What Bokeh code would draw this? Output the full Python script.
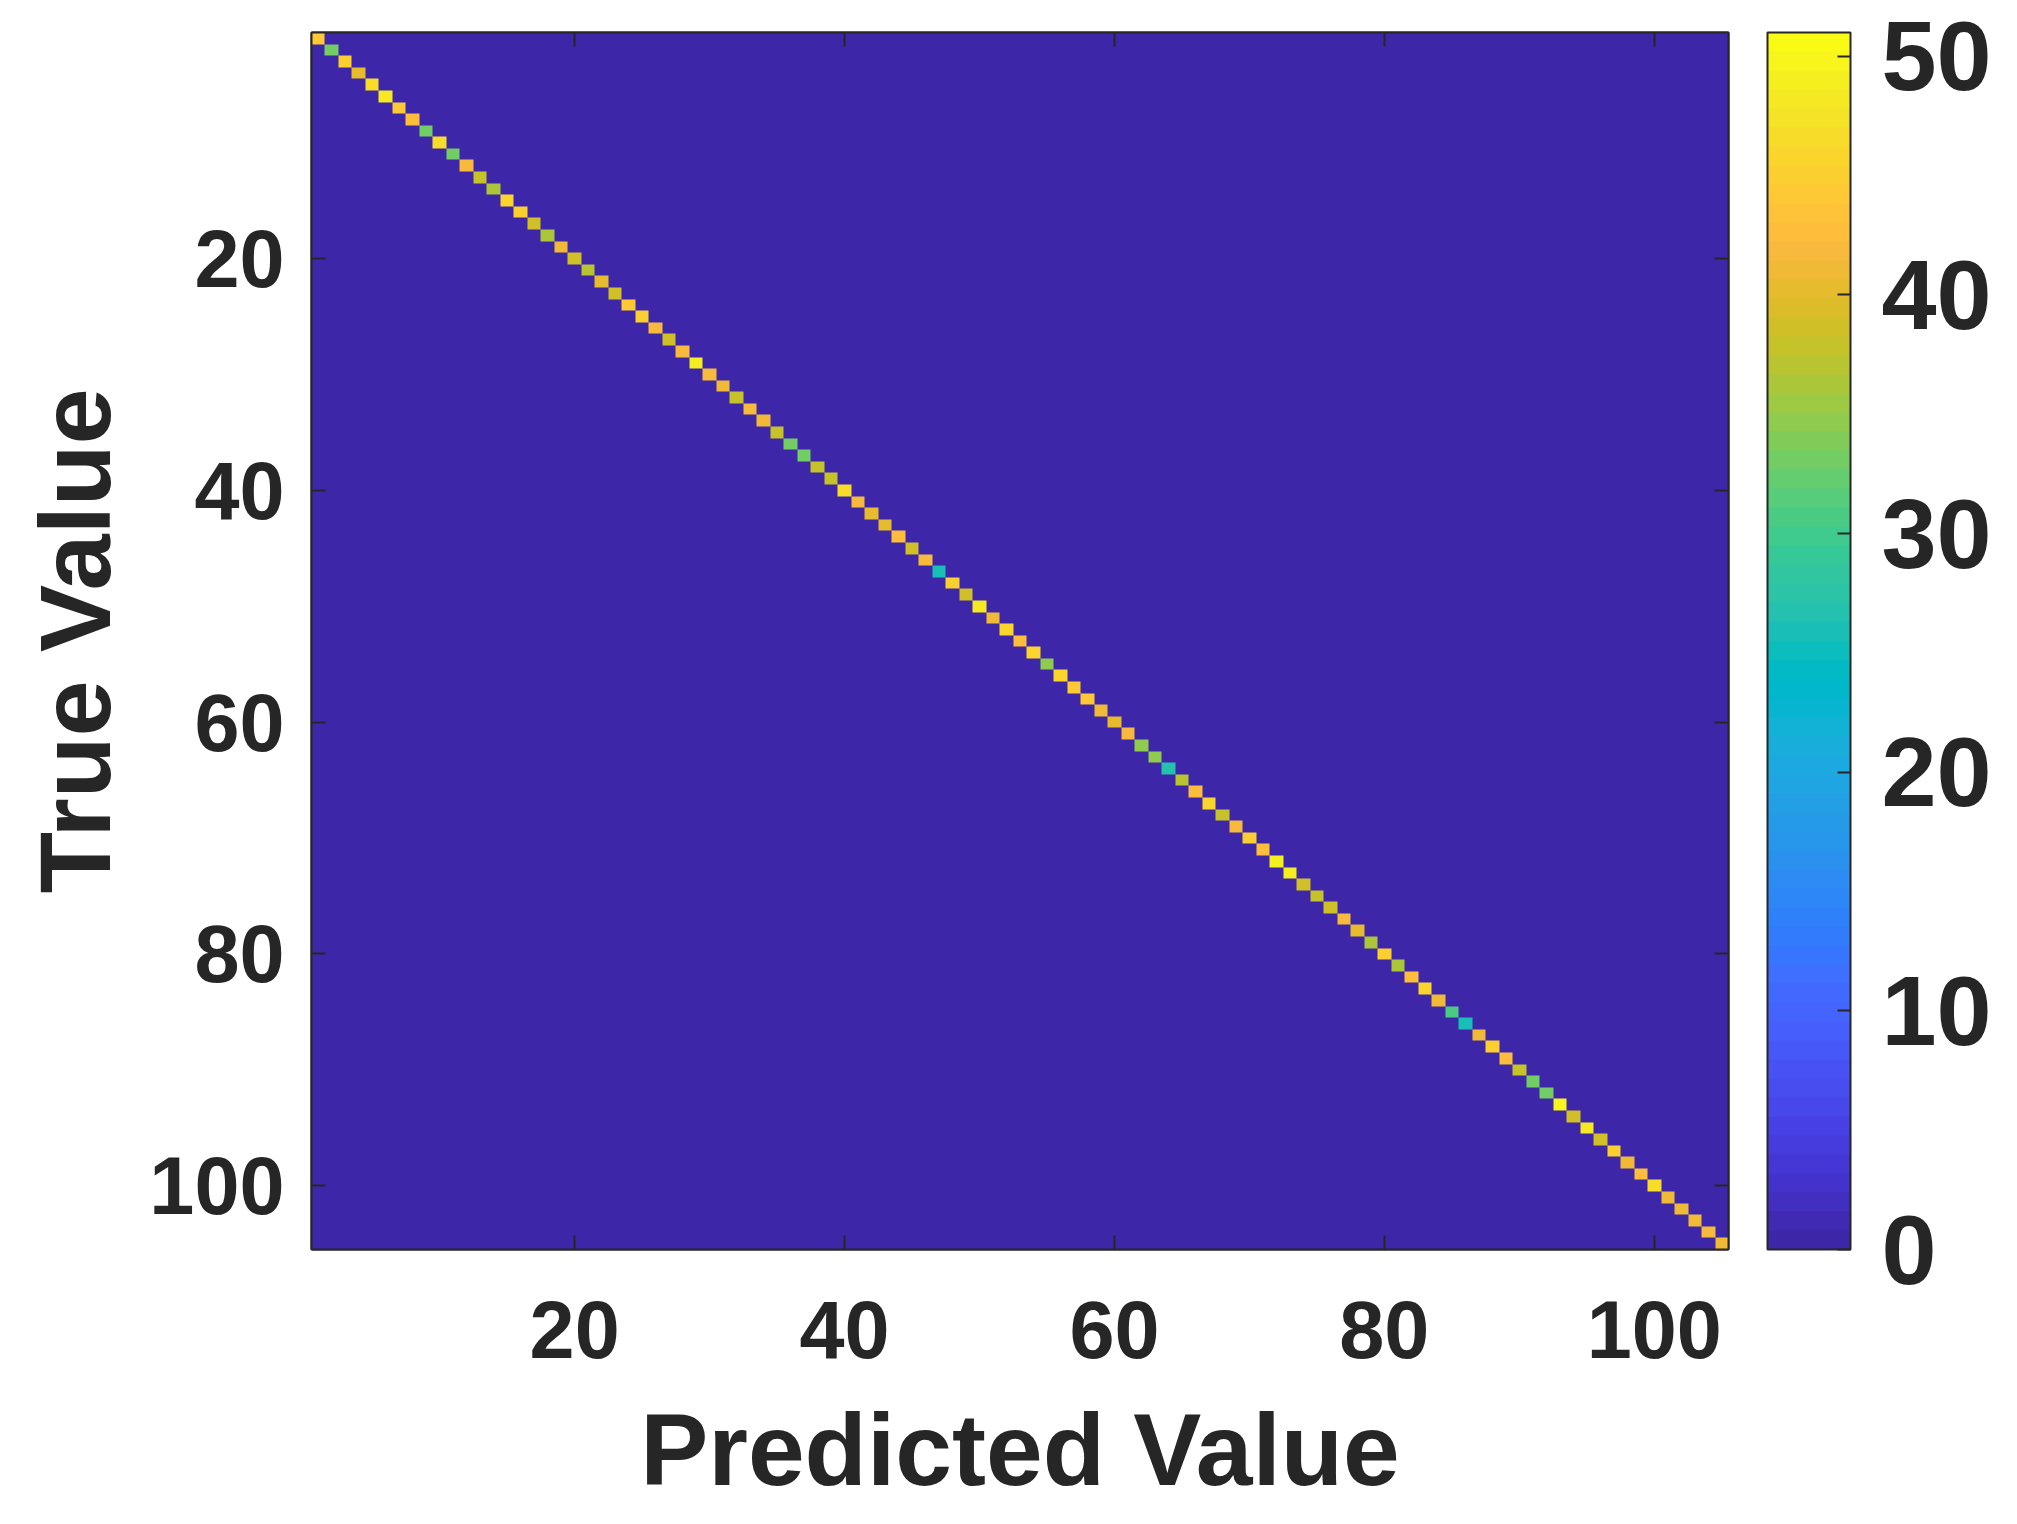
import numpy as np
from bokeh.plotting import figure
from bokeh.embed import file_html
from bokeh.resources import INLINE
from bokeh.models import (LinearColorMapper, ColorBar, FixedTicker, Range1d, LinearAxis)

diagonal_values = [
    44, 33, 45, 40, 47, 48, 44, 43, 33, 47, 33, 42, 38, 36, 46, 45, 39, 36, 41, 39,
    37, 40, 39, 44, 45, 42, 39, 42, 49, 42, 41, 38, 42, 41, 38, 33, 33, 38, 38, 47,
    42, 40, 40, 43, 39, 42, 26, 45, 39, 48, 41, 46, 43, 46, 35, 46, 44, 44, 41, 40,
    42, 35, 35, 27, 37, 43, 46, 38, 42, 45, 43, 49, 49, 39, 38, 39, 42, 40, 36, 45,
    36, 43, 46, 41, 31, 26, 41, 45, 43, 38, 33, 33, 50, 39, 48, 39, 45, 41, 43, 47,
    41, 41, 41, 42, 41,
]
axis_ticks = [20, 40, 60, 80, 100]
colorbar_ticks = [0, 10, 20, 30, 40, 50]
x_title = "Predicted Value"
y_title = "True Value"

parula = [
    (0.2422,0.1504,0.6603),(0.2504,0.1650,0.7076),(0.2578,0.1818,0.7511),(0.2647,0.1978,0.7952),
    (0.2706,0.2147,0.8364),(0.2751,0.2342,0.8710),(0.2783,0.2559,0.8991),(0.2803,0.2782,0.9221),
    (0.2813,0.3006,0.9414),(0.2810,0.3228,0.9579),(0.2795,0.3447,0.9717),(0.2760,0.3667,0.9829),
    (0.2699,0.3892,0.9906),(0.2602,0.4123,0.9952),(0.2440,0.4358,0.9988),(0.2206,0.4603,0.9973),
    (0.1963,0.4847,0.9892),(0.1834,0.5074,0.9798),(0.1786,0.5289,0.9682),(0.1764,0.5499,0.9520),
    (0.1687,0.5703,0.9359),(0.1540,0.5902,0.9218),(0.1460,0.6091,0.9079),(0.1380,0.6276,0.8973),
    (0.1248,0.6459,0.8883),(0.1113,0.6635,0.8763),(0.0952,0.6798,0.8598),(0.0689,0.6948,0.8394),
    (0.0297,0.7082,0.8163),(0.0036,0.7203,0.7917),(0.0067,0.7312,0.7660),(0.0433,0.7411,0.7394),
    (0.0964,0.7500,0.7120),(0.1408,0.7584,0.6842),(0.1717,0.7670,0.6554),(0.1938,0.7758,0.6251),
    (0.2161,0.7843,0.5923),(0.2470,0.7918,0.5567),(0.2906,0.7973,0.5188),(0.3406,0.8008,0.4789),
    (0.3909,0.8029,0.4354),(0.4456,0.8024,0.3909),(0.5044,0.7993,0.3480),(0.5616,0.7942,0.3045),
    (0.6174,0.7876,0.2612),(0.6720,0.7793,0.2227),(0.7242,0.7698,0.1910),(0.7738,0.7598,0.1646),
    (0.8203,0.7498,0.1535),(0.8634,0.7406,0.1596),(0.9035,0.7330,0.1774),(0.9393,0.7288,0.2100),
    (0.9728,0.7298,0.2394),(0.9956,0.7434,0.2371),(0.9970,0.7659,0.2199),(0.9952,0.7893,0.2028),
    (0.9892,0.8136,0.1885),(0.9786,0.8386,0.1766),(0.9676,0.8639,0.1643),(0.9610,0.8890,0.1537),
    (0.9597,0.9135,0.1423),(0.9628,0.9373,0.1265),(0.9691,0.9606,0.1064),(0.9769,0.9839,0.0805),
]
palette = ["#%02x%02x%02x" % tuple(int(round(c * 255)) for c in rgb) for rgb in parula]

n = len(diagonal_values)
matrix = np.zeros((n, n))
for i, v in enumerate(diagonal_values):
    matrix[i, i] = v

FONT = "Liberation Sans"
INK = "#262626"

p = figure(width=1995, height=1500, output_backend="svg", toolbar_location=None,
           frame_width=1417, frame_height=1217,
           min_border_left=311, min_border_top=32, min_border_right=273, min_border_bottom=251,
           x_range=Range1d(0.5, n + 0.5), y_range=Range1d(n + 0.5, 0.5),
           x_axis_location=None, y_axis_location=None)
p.grid.visible = False
p.outline_line_color = INK
p.outline_line_width = 2
p.background_fill_color = palette[0]

mapper = LinearColorMapper(palette=palette, low=0, high=51)
p.image(image=[matrix], x=0.5, y=0.5, dw=n, dh=n, color_mapper=mapper)

def style(ax, labels=True, title_size="101px"):
    ax.ticker = FixedTicker(ticks=axis_ticks)
    ax.major_tick_in = 14
    ax.major_tick_out = 0
    ax.minor_tick_line_color = None
    ax.major_tick_line_color = INK
    ax.major_tick_line_width = 2
    ax.axis_line_color = INK
    ax.axis_line_width = 2
    if labels:
        ax.major_label_text_font = FONT
        ax.major_label_text_font_style = "bold"
        ax.major_label_text_font_size = "81px"
        ax.major_label_text_color = INK
        ax.axis_label_text_font = FONT
        ax.axis_label_text_font_style = "bold"
        ax.axis_label_text_font_size = title_size
        ax.axis_label_text_color = INK
    else:
        ax.major_label_text_alpha = 0
        ax.major_label_text_font_size = "1px"
        ax.major_label_standoff = 0

xb = LinearAxis(axis_label=x_title)
yl = LinearAxis(axis_label=y_title)
style(xb, title_size="102px"); style(yl, title_size="101px")
xb.major_label_standoff = 51
xb.axis_label_standoff = 32
yl.major_label_standoff = 27
yl.axis_label_standoff = 15
xt = LinearAxis(); yr = LinearAxis()
style(xt, False); style(yr, False)
p.add_layout(xb, "below")
p.add_layout(yl, "left")
p.add_layout(xt, "above")
p.add_layout(yr, "right")

cb = ColorBar(color_mapper=mapper, ticker=FixedTicker(ticks=colorbar_ticks),
              location=(1456, 0), width=83, height=1217, margin=0, padding=0,
              major_tick_in=13, major_tick_out=0,
              major_tick_line_color=INK, major_tick_line_width=2,
              minor_tick_line_color=None,
              bar_line_color=INK, bar_line_width=2,
              border_line_color=None, background_fill_color=None,
              major_label_text_font=FONT, major_label_text_font_style="bold",
              major_label_text_font_size="99px", major_label_text_color=INK,
              label_standoff=31)
p.add_layout(cb, "center")

open("out.html", "w").write(file_html(p, INLINE))
